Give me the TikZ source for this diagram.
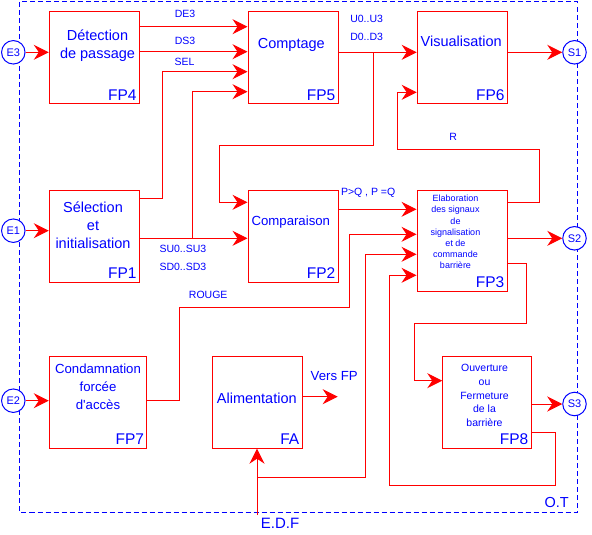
\documentclass[tikz,border=0pt]{standalone}
\usepackage{fontspec}
\setmainfont{Liberation Sans}
\usetikzlibrary{arrows.meta}
\definecolor{rouge}{RGB}{255,0,0}
\definecolor{bleu}{RGB}{0,0,255}

\begin{document}
\begin{tikzpicture}[x=1pt,y=-1pt,>={Stealth[length=15pt,width=15pt,inset=5pt]},
 bloc/.style={draw=rouge,line width=1pt,inner sep=0pt,minimum width=90pt,minimum height=92pt},
 fp/.style={text=bleu,font=\fontsize{15.5}{18}\selectfont,inner sep=0pt,xshift=-3pt,yshift=4pt},
 txt/.style={text=bleu,align=center,font=\fontsize{14.5}{17.8}\selectfont},
 lbl/.style={text=bleu,font=\fontsize{10.5}{12}\selectfont,inner sep=0pt},
 port/.style={circle,draw=bleu,fill=white,line width=1pt,minimum size=23.5pt,inner sep=0pt,text=bleu,font=\fontsize{11}{12}\selectfont},
 fil/.style={draw=rouge,line width=1pt}]
\useasboundingbox (0,0) rectangle (592,535);
% frontiere O.T
\draw[bleu,line width=1pt,dash pattern=on 5pt off 3pt] (19.5,2) rectangle (577,512);
\node[lbl,font=\fontsize{14.5}{16}\selectfont] (ot) at (556.7,502.3) {O.T};
\node[lbl,font=\fontsize{15}{16}\selectfont] (edf) at (280,523.3) {E.D.F};
% blocs fonctionnels
\node[bloc,label={[fp,anchor=south east]south east:FP4}] (fp4) at (94.3,57.9) {};
\node[bloc,label={[fp,anchor=south east]south east:FP5}] (fp5) at (293,57.9) {};
\node[bloc,label={[fp,anchor=south east]south east:FP6}] (fp6) at (462.2,57.9) {};
\node[bloc,label={[fp,anchor=south east]south east:FP1}] (fp1) at (94.3,236.5) {};
\node[bloc,label={[fp,anchor=south east]south east:FP2}] (fp2) at (293,236.5) {};
\node[bloc,minimum height=100.3pt,label={[fp,anchor=south east]south east:FP3}] (fp3) at (462,240.9) {};
\node[bloc,minimum width=97.4pt,label={[fp,anchor=south east]south east:FP7}] (fp7) at (98,402.2) {};
\node[bloc,label={[fp,anchor=south east]south east:FA}] (fa) at (257,402.2) {};
\node[bloc,minimum width=88.3pt,label={[fp,anchor=south east]south east:FP8}] (fp8) at (486.9,402.2) {};
\node[txt] (fp4txt) at (97.5,45.5) {Détection\\de passage};
\node[txt] (fp5txt) at (291.3,45) {Comptage};
\node[txt] (fp6txt) at (461.2,41) {Visualisation};
\node[txt] (fp1txt) at (93,225) {Sélection\\et\\initialisation};
\node[txt,font=\fontsize{13.2}{16}\selectfont] (fp2txt) at (290.8,222.3) {Comparaison};
\node[txt,font=\fontsize{9}{11.2}\selectfont] (fp3txt) at (455.5,232) {Elaboration\\des signaux\\de\\signalisation\\et de\\commande\\barrière};
\node[txt,font=\fontsize{13.2}{18}\selectfont] (fp7txt) at (98,386.3) {Condamnation\\forcée\\d\textquotesingle accès};
\node[txt] (fatxt) at (256.8,398.3) {Alimentation};
\node[txt,font=\fontsize{10.5}{13.6}\selectfont] (fp8txt) at (484.5,395.5) {Ouverture\\ou\\Fermeture\\de la\\barrière};
% entrees / sorties
\node[port] (e3) at (13.3,52.3) {E3};
\node[port] (e1) at (13.3,230.7) {E1};
\node[port] (e2) at (13.3,400.7) {E2};
\node[port] (s1) at (574.5,52.3) {S1};
\node[port] (s2) at (574.5,238.3) {S2};
\node[port] (s3) at (574.5,404) {S3};
% liaisons
\draw[fil,->] (e3) -- (fp4.west |- e3);
\draw[fil,->] (e1) -- (fp1.west |- e1);
\draw[fil,->] (e2) -- (fp7.west |- e2);
\draw[fil,->] (fp4.east |- 0,26.7) -- node[lbl,pos=0.42,yshift=12.7pt]{DE3} (fp5.west |- 0,26.7);
\draw[fil,->] (fp4.east |- 0,51.7) -- node[lbl,pos=0.42,yshift=10.7pt]{DS3} (fp5.west |- 0,51.7);
\draw[fil,->] (fp1.east |- 0,198.3) -| (162.3,71.7) -- node[lbl,pos=0.26,yshift=9.7pt]{SEL} (fp5.west |- 0,71.7);
\draw[fil,->] (fp1.east |- 0,238.3) -- coordinate[pos=0.49] (jS) node[lbl,pos=0.4,yshift=-10.7pt]{SU0..SU3} node[lbl,pos=0.4,yshift=-29pt]{SD0..SD3} (fp2.west |- 0,238.3);
\draw[fil,->] (jS) |- (fp5.west |- 0,91.7);
\draw[fil,->] (fp5.east |- 0,52.3) -- coordinate[pos=0.445] (jU) node[lbl,pos=0.36,yshift=33.3pt]{U0..U3} node[lbl,pos=0.36,yshift=15.6pt]{D0..D3} (fp6.west |- 0,52.3);
\draw[fil,->] (jU) |- (219.3,145.7) |- (fp2.west |- 0,202.3);
\draw[fil,->] (fp6.east |- s1) -- (s1);
\draw[fil,->] (fp3.east |- 0,202.3) -| (539.3,149.3) -- node[lbl,pos=0.606,yshift=12.6pt]{R} (397.3,149.3) |- (fp6.west |- 0,92.3);
\draw[fil,->] (fp2.east |- 0,209.3) -- node[lbl,pos=0.38,yshift=16pt]{P>Q , P =Q} (fp3.west |- 0,209.3);
\draw[fil,->] (fp3.east |- s2) -- (s2);
\draw[fil,->] (fp3.east |- 0,263.3) -| (526,323.3) -| (414.3,380.7) -- (fp8.west |- 0,380.7);
\draw[fil,->] (fp7.east |- e2) -| (179.3,307.3) -- node[lbl,pos=0.17,yshift=12.3pt]{ROUGE} (349.3,307.3) |- (fp3.west |- 0,234.3);
\coordinate (edfin) at (fa.south |- 0,515);
\draw[fil,->] (edfin) -- coordinate[pos=0.565] (jA) (fa.south);
\draw[fil,->] (jA) -| (365.7,254.3) -- (fp3.west |- 0,254.3);
\draw[fil,->] (fp8.east |- 0,432.3) -| (555.7,485.7) -| (389.3,275.3) -- (fp3.west |- 0,275.3);
\draw[fil,->] (fp8.east |- s3) -- (s3);
\coordinate (versfp) at (337.7,396.7);
\draw[fil,->] (fa.east |- versfp) -- node[lbl,font=\fontsize{13.2}{16}\selectfont,pos=0.9,yshift=20.7pt]{Vers FP} (versfp);
\end{tikzpicture}
\end{document}
